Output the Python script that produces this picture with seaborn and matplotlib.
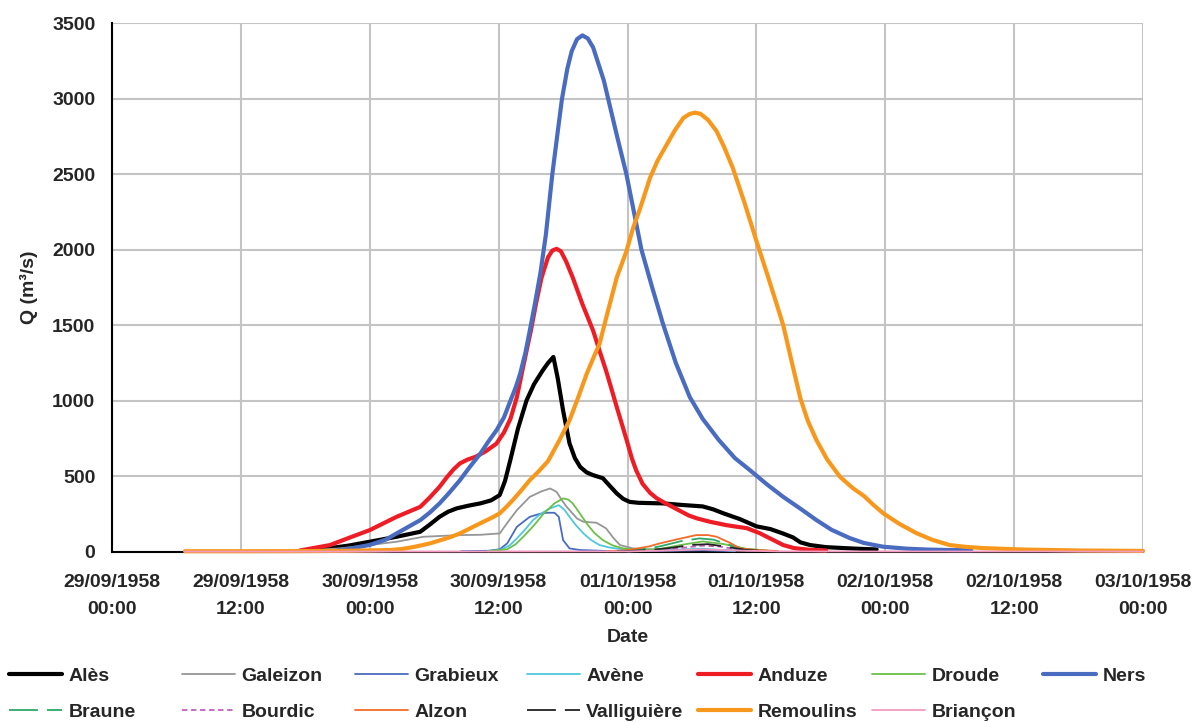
import numpy as np
import pandas as pd
import matplotlib
matplotlib.use("Agg")
import matplotlib.pyplot as plt
import matplotlib.dates as mdates
import seaborn as sns

# Discharge hydrographs, flood of 29 Sept - 3 Oct 1958 (hours after 29/09/1958 00:00, m3/s)
ales_t = [19, 20.3, 22, 24, 26.5, 28.7, 29.6, 30.5, 31.3, 32.1, 33.2, 34.3, 35.3, 36.1, 36.6,
          37.1, 37.8, 38.6, 39.3, 40.1, 40.6, 41.1, 41.5, 42.0, 42.6, 43.1, 43.6, 44.2, 44.8,
          45.7, 46.3, 47, 47.6, 48.2, 49, 50, 51.3, 53, 55, 56, 56.9, 58.5, 60, 61.3, 62.5,
          63.4, 64.1, 65, 66.5, 68.7, 70, 71.2]
ales_q = [10, 24, 40, 66, 99, 132, 180, 231, 265, 287, 305, 320, 340, 375, 470,
          610, 815, 1002, 1110, 1200, 1250, 1290, 1150, 936, 718, 620, 561, 525, 507,
          487, 440, 386, 350, 330, 324, 322, 320, 310, 300, 280, 255, 215, 168, 150, 120,
          95, 62, 44, 30, 22, 18, 15]

galeizon_t = [18, 21.2, 24, 26.5, 29, 32.4, 34.3, 36.1, 36.9, 37.7, 38.9, 40, 40.8, 41.4, 41.9,
              42.3, 43.3, 43.9, 45.1, 46, 46.7, 47.3, 48.5, 50, 52, 55, 58, 60]
galeizon_q = [8, 22, 44, 66, 99, 110, 112, 121, 200, 275, 363, 400, 419, 396, 340,
              300, 220, 198, 192, 155, 90, 44, 22, 15, 12, 12, 9, 6]

grabieux_t = [32.5, 35, 36.1, 36.8, 37.7, 38.9, 39.8, 40.5, 41.2, 41.6, 42, 42.6, 43.6, 46,
              49, 52, 55, 58]
grabieux_q = [3, 6, 16, 55, 165, 231, 250, 258, 258, 231, 77, 22, 11, 5, 3, 6, 9, 3]

avene_t = [35, 36.1, 37, 37.7, 38.5, 39.2, 40, 40.8, 41.6, 42.1, 42.6, 43.2, 43.9, 44.6, 45.4,
           46.3, 47.3, 49, 52, 55, 58]
avene_q = [3, 10, 40, 88, 150, 209, 255, 287, 308, 280, 231, 175, 121, 78, 44,
           28, 18, 10, 12, 20, 6]

droude_t = [35, 36.8, 37.6, 38.3, 39.3, 40.2, 41.2, 42, 42.5, 42.9, 43.5, 44.2, 44.9, 45.7,
            46.6, 47.6, 49, 51, 53, 55, 57, 59, 61]
droude_q = [3, 16, 50, 99, 175, 253, 320, 353, 345, 320, 260, 187, 125, 77,
            42, 22, 12, 18, 45, 68, 50, 20, 8]

anduze_t = [17.5, 20.3, 22, 24, 26.5, 28.7, 29.6, 30.5, 31.2, 31.8, 32.4, 33.1, 33.9, 34.8,
            35.8, 36.5, 37.1, 37.7, 38.3, 39, 39.5, 40, 40.6, 41.0, 41.4, 41.8, 42.3, 42.9,
            43.8, 44.8, 45.4, 46, 46.5, 47, 47.5, 48, 48.4, 48.8, 49.4, 50.1, 50.7, 51.3,
            52.1, 52.9, 53.7, 54.5, 55.7, 57.2, 58.2, 59.1, 60.3, 61.5, 62.5, 63.5, 65, 66.5]
anduze_q = [8, 44, 90, 143, 231, 297, 360, 430, 495, 545, 585, 610, 630, 665,
            716, 790, 880, 1024, 1230, 1464, 1650, 1816, 1950, 1995, 2006, 1990, 1920, 1816,
            1640, 1464, 1330, 1200, 1080, 958, 840, 720, 620, 540, 450, 390, 355, 330,
            300, 270, 240, 220, 198, 176, 165, 156, 123, 80, 44, 24, 12, 8]

ners_t = [21, 22, 24, 25.5, 26.5, 27.6, 28.7, 29.6, 30.5, 31.4, 32.4, 33.3, 34.3, 35.0, 35.8,
          36.5, 37.1, 37.6, 38, 38.5, 38.9, 39.4, 39.9, 40.4, 41.0, 41.5, 41.9, 42.4, 42.8,
          43.3, 43.8, 44.3, 44.8, 45.3, 45.8, 46.2, 47, 47.9, 48.6, 49.3, 50.3, 51.3, 52.5,
          53.8, 55, 56.5, 58, 59.4, 61, 62.5, 64.1, 65.6, 67, 68.7, 70, 71.8, 74, 76, 78, 80]
ners_q = [10, 18, 45, 80, 121, 165, 209, 260, 320, 390, 474, 560, 650, 725, 804,
          890, 1000, 1090, 1178, 1320, 1464, 1650, 1850, 2100, 2500, 2780, 3000, 3200, 3314,
          3395, 3420, 3400, 3340, 3230, 3120, 3000, 2760, 2500, 2250, 2000, 1750, 1510, 1250,
          1024, 880, 740, 620, 540, 445, 363, 285, 209, 145, 90, 58, 33, 20, 14, 11, 10]

braune_t = [47, 49, 51, 53, 54.7, 56, 57.5, 59, 61]
braune_q = [3, 10, 35, 70, 88, 80, 45, 15, 5]

bourdic_t = [48, 51, 53, 55, 56.5, 58, 60]
bourdic_q = [2, 10, 25, 40, 35, 18, 5]

alzon_t = [46, 48, 50, 51, 52.5, 54.4, 55.5, 56.3, 57.5, 58.5, 60, 62]
alzon_q = [3, 10, 35, 55, 80, 110, 110, 99, 60, 22, 11, 5]

valliguiere_t = [47, 50, 52, 54, 55.5, 57, 59, 61]
valliguiere_q = [2, 10, 25, 45, 50, 35, 12, 3]

remoulins_t = [6.8, 12, 18, 22, 25.9, 27, 28, 28.8, 29.6, 30.3, 31, 31.7, 32.4, 33.5, 34.2,
               34.9, 35.5, 36.1, 36.7, 37.3, 38.1, 38.9, 39.7, 40.6, 41.6, 42.6, 43.4, 44.2,
               44.8, 45.4, 46.2, 47, 47.9, 48.5, 49.2, 50.1, 50.8, 51.6, 52.4, 53.2, 53.8,
               54.3, 54.8, 55.5, 56.3, 57, 57.8, 58.9, 60, 61, 61.8, 62.5, 63.3, 64.1, 64.8,
               65.6, 66.6, 67.8, 69, 70, 70.9, 71.8, 73.3, 74.9, 76.4, 78, 79.5, 81.1, 85,
               90, 96]
remoulins_q = [3, 3, 4, 6, 11, 18, 30, 42, 55, 70, 85, 102, 121, 160, 185,
               209, 230, 254, 295, 340, 405, 474, 530, 600, 730, 870, 1020, 1178,
               1280, 1378, 1600, 1816, 1990, 2140, 2279, 2477, 2590, 2690, 2790, 2873, 2900,
               2908, 2900, 2860, 2785, 2680, 2543, 2310, 2059, 1840, 1660, 1500, 1255, 1015, 865,
               738, 610, 495, 420, 370, 310, 255, 185, 123, 78, 44, 32, 24, 14,
               8, 5]

briancon_t = [6.8, 30, 48, 52, 55, 58, 62, 96]
briancon_q = [1, 1, 2, 8, 15, 8, 2, 1]

stations = ["Alès", "Galeizon", "Grabieux", "Avène", "Anduze", "Droude", "Ners",
            "Braune", "Bourdic", "Alzon", "Valliguière", "Remoulins", "Briançon"]
series_t = [ales_t, galeizon_t, grabieux_t, avene_t, anduze_t, droude_t, ners_t,
            braune_t, bourdic_t, alzon_t, valliguiere_t, remoulins_t, briancon_t]
series_q = [ales_q, galeizon_q, grabieux_q, avene_q, anduze_q, droude_q, ners_q,
            braune_q, bourdic_q, alzon_q, valliguiere_q, remoulins_q, briancon_q]

# Line styling per station
colors = {"Alès": "#000000", "Galeizon": "#969696", "Grabieux": "#4A6CC0", "Avène": "#4FC8DC",
          "Anduze": "#EE1C25", "Droude": "#6CC04A", "Ners": "#4A6CC0", "Braune": "#2EA866",
          "Bourdic": "#C060C0", "Alzon": "#F26B2A", "Valliguière": "#222222",
          "Remoulins": "#F7981D", "Briançon": "#F49AC1"}
widths = {s: 1.3 for s in stations}
for s in ["Alès", "Anduze", "Ners", "Remoulins"]:
    widths[s] = 3.0
dashes = {"Braune": (16, 5), "Bourdic": (3, 2), "Valliguière": (16, 5)}

start = pd.Timestamp("1958-09-29 00:00")
frames = []
for name, t, q in zip(stations, series_t, series_q):
    frames.append(pd.DataFrame({"Date": start + pd.to_timedelta(t, unit="h"),
                                "Q": q, "station": name}))
df = pd.concat(frames, ignore_index=True)

sns.set_style("white")
plt.rcParams["font.family"] = ["Liberation Sans", "DejaVu Sans"]
plt.rcParams["font.weight"] = "bold"
plt.rcParams["axes.labelweight"] = "bold"

fig = plt.figure(figsize=(11.96, 7.22), dpi=100)
ax = fig.add_axes([112 / 1196, 1 - 551.7 / 722, (1143 - 112) / 1196, (551.7 - 23.3) / 722])

handles = {}
for name in stations:
    sub = df[df["station"] == name]
    sns.lineplot(data=sub, x="Date", y="Q", ax=ax, color=colors[name],
                 linewidth=widths[name], label=name, zorder=3, clip_on=False)
    line = ax.get_lines()[-1]
    line.set_solid_joinstyle("round")
    if name in dashes:
        line.set_dashes(dashes[name])
    handles[name] = line
if ax.get_legend() is not None:
    ax.get_legend().remove()

ax.set_xlim(pd.Timestamp("1958-09-29 00:00"), pd.Timestamp("1958-10-03 00:00"))
ax.set_ylim(0, 3500)
ax.set_yticks(np.arange(0, 3501, 500))
ax.xaxis.set_major_locator(mdates.HourLocator(byhour=[0, 12]))
ax.xaxis.set_major_formatter(mdates.DateFormatter("%d/%m/%Y\n%H:%M"))

ax.grid(True, color="#c4c4c4", linewidth=1.5)
ax.set_axisbelow(True)
for side in ["top", "right"]:
    ax.spines[side].set_visible(False)
for side in ["left", "bottom"]:
    ax.spines[side].set_color("black")
    ax.spines[side].set_linewidth(1.5)
ax.tick_params(axis="both", direction="out", length=5, width=1.5, color="black",
               labelsize=14)
ax.tick_params(axis="x", pad=11)
ax.tick_params(axis="y", pad=7)
for lbl in ax.get_xticklabels():
    lbl.set_linespacing(1.75)
    lbl.set_fontweight("bold")
for lbl in ax.get_yticklabels():
    lbl.set_fontweight("bold")

ax.set_xlabel("Date", fontsize=14, fontweight="bold", labelpad=8)
ax.set_ylabel("Q (m³/s)", fontsize=14, fontweight="bold", labelpad=10)

# Legend laid out as evenly spaced columns, two rows
columns = [["Alès", "Braune"], ["Galeizon", "Bourdic"], ["Grabieux", "Alzon"],
           ["Avène", "Valliguière"], ["Anduze", "Remoulins"], ["Droude", "Briançon"], ["Ners"]]
col_x = [9, 182, 355, 527, 698, 872, 1043]
for names, x in zip(columns, col_x):
    fig.legend([handles[n] for n in names], names, loc="upper left",
               bbox_to_anchor=(x / 1196, 1 - 667 / 722), borderaxespad=0,
               borderpad=0, frameon=False, handlelength=2.7, handletextpad=0.35,
               labelspacing=0.95, prop={"size": 14, "weight": "bold"})

fig.savefig("out.png", dpi=100)
